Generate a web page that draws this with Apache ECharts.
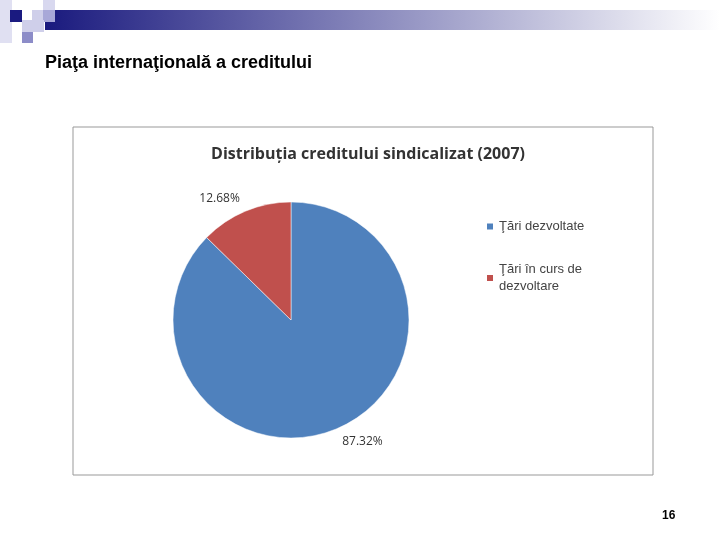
<!DOCTYPE html>
<html><head><meta charset="utf-8">
<script src="https://cdn.jsdelivr.net/npm/echarts@6/dist/echarts.min.js"></script>
<style>html,body{margin:0;background:#fff}#c{width:720px;height:540px}</style>
</head><body><div id="c"></div>
<script>
// distributia creditului sindicalizat (2007)
var names = ['Ţări dezvoltate', 'Ţări în curs de\ndezvoltare'];
var values = [87.32, 12.68];
var colors = ['#4f81bd', '#c0504d'];

var chart = echarts.init(document.getElementById('c'));
chart.setOption({
    animation: false,
    title: {
        text: 'Distribuția creditului sindicalizat (2007)',
        left: 363, top: 141, textAlign: 'center',
        textStyle: { fontFamily: 'Open Sans', fontSize: 16, fontWeight: 'bold', color: '#333' }
    },
    legend: {
        orient: 'vertical', left: 480, top: 213, itemWidth: 8, itemHeight: 8, itemGap: 26,
        icon: 'rect',
        textStyle: { fontFamily: 'Liberation Sans', fontSize: 13, color: '#444', lineHeight: 17 },
        data: names
    },
    graphic: [
        { type: 'rect', shape: { x: 45, y: 10, width: 675, height: 20 },
          style: { fill: new echarts.graphic.LinearGradient(0, 0, 1, 0, [{ offset: 0, color: '#1a1a7e' }, { offset: 1, color: '#ffffff' }]) } },
        { type: 'rect', shape: { x: 0, y: 0, width: 12, height: 43 }, style: { fill: '#e0e0f2' } },
        { type: 'rect', shape: { x: 10, y: 10, width: 12, height: 12 }, style: { fill: '#1a1a80' } },
        { type: 'rect', shape: { x: 32, y: 10, width: 12, height: 10 }, style: { fill: '#cfcfea' } },
        { type: 'rect', shape: { x: 43, y: 0, width: 12, height: 10 }, style: { fill: '#d8d8ef' } },
        { type: 'rect', shape: { x: 43, y: 10, width: 12, height: 12 }, style: { fill: '#a8a8d8' } },
        { type: 'rect', shape: { x: 22, y: 20, width: 22, height: 12 }, style: { fill: '#cfcfea' } },
        { type: 'rect', shape: { x: 22, y: 32, width: 11, height: 11 }, style: { fill: '#8c8cc8' } },
        { type: 'text', left: 45, top: 54, style: { text: 'Piaţa internaţională a creditului', font: 'bold 18px Liberation Sans', fill: '#000' } },
        { type: 'rect', shape: { x: 73, y: 127, width: 580, height: 348 }, style: { fill: 'none', stroke: '#999', lineWidth: 1 } },
        { type: 'text', left: 662, top: 510, style: { text: '16', font: 'bold 12px Liberation Sans', fill: '#000' } }
    ],
    series: [{
        type: 'pie',
        center: [291, 320],
        radius: 118,
        startAngle: 90,
        color: colors,
        itemStyle: { borderColor: '#fff', borderWidth: 0.5 },
        label: {
            position: 'outside', formatter: function (p) { return p.value.toFixed(2) + '%'; },
            fontFamily: 'Open Sans', fontSize: 12, color: '#333', distanceToLabelLine: 0
        },
        labelLine: { show: false, length: 14, length2: 0 },
        data: names.map(function (n, i) { return { name: n, value: values[i] }; })
    }]
});
</script></body></html>
